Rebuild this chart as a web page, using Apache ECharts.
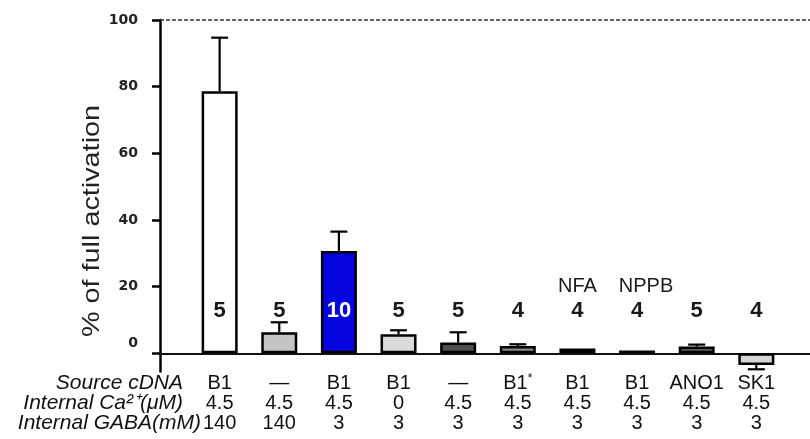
<!DOCTYPE html>
<html>
<head>
<meta charset="utf-8">
<script src="https://cdn.jsdelivr.net/npm/echarts@6/dist/echarts.min.js"></script>
<style>
  html, body { margin: 0; padding: 0; background: #fff; }
  #chart { width: 810px; height: 439px; }
</style>
</head>
<body>
<div id="chart"></div>
<script>
// Recording conditions for each group
const sourceCDNA   = ['B1', '—', 'B1', 'B1', '—', 'B1*', 'B1', 'B1', 'ANO1', 'SK1'];
const internalCa   = ['4.5', '4.5', '4.5', '0', '4.5', '4.5', '4.5', '4.5', '4.5', '4.5'];
const internalGABA = ['140', '140', '3', '3', '3', '3', '3', '3', '3', '3'];
const blockers     = ['', '', '', '', '', '', 'NFA', 'NPPB', '', ''];

// Current as % of full activation (mean ± SEM) and number of cells
const meanActivation = [78.6, 6.3, 30.7, 5.7, 3.2, 2.2, 1.4, 0.8, 2.0, -3.5];
const semActivation  = [16.1, 3.0, 5.8, 1.2, 3.1, 0.5, 0, 0, 0.6, 1.3];
const cellCounts     = [5, 5, 10, 5, 5, 4, 4, 4, 5, 4];

// Axis ticks
const yTicks = [0, 20, 40, 60, 80, 100];
const groupIndex = sourceCDNA.map((_, i) => i);

// Bar fills
const barFills = ['#ffffff', '#c4c4c4', '#0505e0', '#dadada', '#4e4e4e',
                  '#8a8a8a', '#111111', '#111111', '#5a5a5a', '#d6d6d6'];

const FONT = '"Liberation Sans", Arial, sans-serif';
const N_LABEL_Y = 12.7;
const BLOCKER_LABEL_Y = 19.9;

const chart = echarts.init(document.getElementById('chart'), null, { renderer: 'canvas' });

function groupLabel(value) {
  const i = Math.round(value);
  let src = sourceCDNA[i];
  if (src.endsWith('*')) {
    src = '{r|' + src.slice(0, -1) + '}{sup|*}';
  } else {
    src = '{r|' + src + '}';
  }
  return src + '\n{r|' + internalCa[i] + '}\n{r|' + internalGABA[i] + '}';
}

const option = {
  animation: false,
  backgroundColor: '#ffffff',
  grid: { left: 160, right: 0, top: 20, bottom: 67.4, containLabel: false, outerBoundsMode: 'none' },
  xAxis: {
    type: 'value',
    min: -1,
    max: 9.9,
    splitLine: { show: false },
    axisTick: { show: false },
    axisLine: { onZero: true, lineStyle: { color: '#111', width: 2 } },
    axisLabel: {
      customValues: groupIndex,
      margin: 1.5,
      formatter: groupLabel,
      rich: {
        r: { fontFamily: FONT, fontSize: 20, color: '#111', lineHeight: 20 },
        sup: { fontFamily: FONT, fontSize: 12, color: '#111', lineHeight: 20, verticalAlign: 'top', padding: [0, 0, 8, 0] }
      }
    }
  },
  yAxis: {
    type: 'value',
    min: -5.5,
    max: 100,
    splitLine: { show: false },
    axisLine: { show: true, onZero: false, lineStyle: { color: '#000', width: 2.5 } },
    axisTick: { show: true, customValues: yTicks, length: 8, lineStyle: { color: '#000', width: 2.5 } },
    axisLabel: {
      customValues: yTicks,
      margin: 22,
      fontFamily: '"DejaVu Sans", sans-serif',
      fontWeight: 'bold',
      fontSize: 14,
      color: '#222',
      formatter: v => (v === 0 ? '{z|0}' : String(v)),
      rich: {
        z: { fontFamily: '"DejaVu Sans", sans-serif', fontWeight: 'bold', fontSize: 14, color: '#222', padding: [0, 0, 20, 0] }
      }
    }
  },
  graphic: [
    {
      type: 'text', x: 92, y: 221, rotation: Math.PI / 2, scaleX: 1.2, scaleY: 1,
      style: { text: '% of full activation', font: '24px ' + FONT, fill: '#222', align: 'center', verticalAlign: 'middle' }
    },
    {
      type: 'text', x: 183, y: 383,
      style: { text: 'Source cDNA', font: 'italic 21px ' + FONT, fill: '#111', align: 'right', verticalAlign: 'middle' }
    },
    {
      type: 'text', x: 183, y: 403,
      style: { text: 'Internal Ca²⁺(μM)', font: 'italic 21px ' + FONT, fill: '#111', align: 'right', verticalAlign: 'middle' }
    },
    {
      type: 'text', x: 201, y: 423,
      style: { text: 'Internal GABA(mM)', font: 'italic 21px ' + FONT, fill: '#111', align: 'right', verticalAlign: 'middle' }
    }
  ],
  series: [
    {
      type: 'bar',
      barWidth: 36,
      itemStyle: { borderColor: '#000', borderWidth: 2.5 },
      data: meanActivation.map((v, i) => ({ value: [i, v], itemStyle: { color: barFills[i] } })),
      markLine: {
        silent: true,
        symbol: 'none',
        label: { show: false },
        lineStyle: { type: [4, 2], width: 1.5, color: '#333' },
        data: [{ yAxis: 100 }]
      },
      z: 2
    },
    {
      type: 'custom',
      z: 3,
      encode: { x: 0, y: 1 },
      data: meanActivation.map((v, i) => [i, v, semActivation[i]]),
      renderItem: function (params, api) {
        const i = api.value(0), m = api.value(1), e = api.value(2);
        if (!e) return null;
        const base = api.coord([i, m]);
        const tip = api.coord([i, m < 0 ? m - e : m + e]);
        const style = { stroke: '#000', lineWidth: 2.2 };
        return {
          type: 'group',
          children: [
            { type: 'line', shape: { x1: base[0], y1: base[1], x2: tip[0], y2: tip[1] }, style: style },
            { type: 'line', shape: { x1: tip[0] - 8.5, y1: tip[1], x2: tip[0] + 8.5, y2: tip[1] }, style: style }
          ]
        };
      }
    },
    {
      type: 'scatter',
      symbolSize: 0,
      silent: true,
      z: 4,
      itemStyle: { opacity: 1 },
      data: cellCounts.map((n, i) => ({
        value: [i, N_LABEL_Y],
        label: { color: barFills[i] === '#0505e0' ? '#ffffff' : '#1a1a1a' }
      })),
      label: {
        show: true,
        position: 'inside',
        fontFamily: FONT,
        fontWeight: 'bold',
        fontSize: 22,
        textBorderWidth: 0,
        formatter: p => String(cellCounts[p.dataIndex])
      }
    },
    {
      type: 'scatter',
      symbolSize: 0,
      silent: true,
      z: 4,
      itemStyle: { opacity: 1 },
      data: blockers.map((b, i) => ({
        value: [i, BLOCKER_LABEL_Y],
        label: { offset: b === 'NPPB' ? [9, 0] : [0, 0] }
      })),
      label: {
        show: true,
        position: 'inside',
        fontFamily: FONT,
        fontSize: 20,
        color: '#1a1a1a',
        textBorderWidth: 0,
        formatter: p => blockers[p.dataIndex]
      }
    }
  ]
};

chart.setOption(option);
</script>
</body>
</html>
